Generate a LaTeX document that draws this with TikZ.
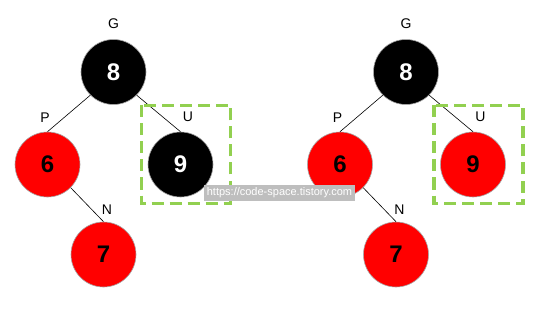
\documentclass[tikz,border=0pt]{standalone}
\usepackage{fontspec}
\setmainfont{Liberation Sans}
\usepackage{xcolor}
\usetikzlibrary{positioning}
\definecolor{rbred}{RGB}{255,0,0}
\definecolor{boxgreen}{RGB}{146,208,80}
\definecolor{markgray}{RGB}{190,190,190}

\tikzset{
  rbnode/.style={circle, minimum size=65pt, inner sep=0pt, draw=gray!70, line width=0.6pt,
    font=\fontsize{24}{24}\selectfont\bfseries},
  blacknode/.style={rbnode, fill=black, text=white},
  rednode/.style={rbnode, fill=rbred, text=black},
  lbl/.style={font=\fontsize{14}{14}\selectfont, inner sep=0pt},
  link/.style={black, line width=0.6pt},
  uncle/.style={draw=boxgreen, line width=3.6pt, dash pattern=on 12pt off 6pt}
}

\begin{document}
\begin{tikzpicture}[x=1pt, y=-1pt]
  \useasboundingbox (0,0) rectangle (549,310);
  \fill[white] (0,0) rectangle (549,310);

  % two trees: before (uncle black) and after (uncle red)
  \foreach \dx/\ucol/\t in {0/blacknode/l, 292.5/rednode/r} {
    \begin{scope}[xshift=\dx pt]
      % nodes
      \node[blacknode] (\t G) at (113.5,72) {8};
      \node[rednode]   (\t P) at (47.5,164.5) {6};
      \node[\ucol]     (\t U) at (180.5,164.5) {9};
      \node[rednode]   (\t N) at (103.5,254.5) {7};
      % links
      \draw[link] (\t G.south west) -- (\t P.north);
      \draw[link] (\t G.south east) -- (\t U.north);
      \draw[link] (\t P.south east) -- (\t N.north);
      % role labels
      \node[lbl] at (113.5,24) {G};
      \node[lbl] at (45,118) {P};
      \node[lbl] at (188,117) {U};
      \node[lbl] at (107,210) {N};
      % uncle highlight
      \draw[uncle] (141.5,105.5) rectangle (230.5,203.5);
    \end{scope}
  }

  % watermark
  \node[fill=markgray, text=white, inner sep=1.5pt, minimum height=16pt, minimum width=151pt,
    font=\fontsize{11}{11}\selectfont] (mark) at (279.5,192.5) {https://code-space.tistory.com};
\end{tikzpicture}
\end{document}
